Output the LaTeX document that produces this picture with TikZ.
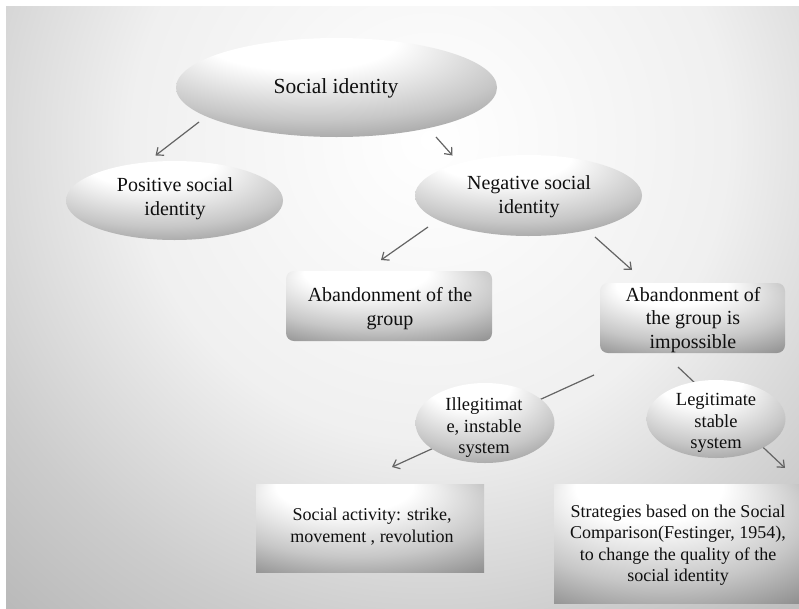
\documentclass[tikz,border=0pt]{standalone}
\usepackage{fontspec}
\setmainfont{Liberation Serif}
\newfontfamily\timesface{Liberation Serif}
\usetikzlibrary{arrows.meta,shapes.geometric}

% soft grey backdrop, bright near the upper middle
\pgfdeclareradialshading{bgshade}{\pgfpoint{0bp}{0bp}}{%
  color(0bp)=(white); color(10.7bp)=(black!6); color(17.9bp)=(black!20);
  color(24.3bp)=(black!30); color(27.9bp)=(black!38); color(30.7bp)=(black!43);
  color(33.6bp)=(black!47); color(42.9bp)=(black!53); color(50bp)=(black!55)}

% glossy fill of the shapes: highlight near the top, darker rim
\pgfdeclareradialshading{nodeshade}{\pgfpoint{-8bp}{34bp}}{%
  color(0bp)=(white); color(15bp)=(white); color(30bp)=(black!22);
  color(42bp)=(black!46); color(50bp)=(black!64)}

\definecolor{linkgray}{RGB}{100,100,100}
\definecolor{inkc}{RGB}{15,15,15}

\tikzset{
  oval/.style={ellipse, shade, shading=nodeshade, inner sep=0pt},
  panel/.style={rectangle, rounded corners=8pt, shade, shading=nodeshade, inner sep=0pt},
  flatpanel/.style={rectangle, shade, shading=nodeshade, inner sep=0pt},
  txtbig/.style={text=inkc, align=center, inner sep=0pt, font=\timesface\fontsize{20}{24}\selectfont},
  txtmid/.style={text=inkc, align=center, inner sep=0pt, font=\timesface\fontsize{18.5}{21.5}\selectfont},
  txtsmall/.style={text=inkc, align=center, inner sep=0pt, font=\timesface\fontsize{18}{22}\selectfont},
  link/.style={draw=linkgray, line width=1.2pt, -{Straight Barb[length=6pt,width=10pt]}},
}

\begin{document}
\begin{tikzpicture}[x=1pt,y=-1pt]
\useasboundingbox (0,0) rectangle (799,608);
\fill[white] (0,0) rectangle (799,608);
\begin{scope}
  \clip (6,6) rectangle (799,608);
  \shade[shading=bgshade] (430,140) circle[radius=700];
\end{scope}

% free ends of the connectors
\coordinate (p1) at (199,122);   \coordinate (q1) at (155.5,155.5);
\coordinate (p2) at (436,137);   \coordinate (q2) at (452.5,155.5);
\coordinate (p3) at (428,227);   \coordinate (q3) at (381,260);
\coordinate (p4) at (595,237);   \coordinate (q4) at (632,270);
\coordinate (p5) at (594,375);   \coordinate (q5) at (392,467);
\coordinate (p6) at (678,367);   \coordinate (q6) at (785,468);

% these two run behind the small ovals
\draw[link] (p5) -- (q5);
\draw[link] (p6) -- (q6);

% shapes
\node[oval, minimum width=321pt, minimum height=99pt] (si) at (336.5,87.5) {};
\node[oval, minimum width=217pt, minimum height=79pt] (pos) at (174.5,200.5) {};
\node[oval, minimum width=227pt, minimum height=81pt] (neg) at (528.5,195.5) {};
\node[panel, minimum width=206pt, minimum height=70pt] (aband) at (389,306) {};
\node[panel, minimum width=185pt, minimum height=70pt] (imposs) at (692.5,318) {};
\node[oval, minimum width=139pt, minimum height=80pt] (illeg) at (485,423) {};
\node[oval, minimum width=139pt, minimum height=78pt] (legit) at (716,419) {};
\node[flatpanel, minimum width=228pt, minimum height=88pt] (act) at (370,528) {};
\node[flatpanel, minimum width=245pt, minimum height=119pt] (strat) at (676.5,543.5) {};

% texts
\node[txtbig, font=\timesface\fontsize{21.5}{26}\selectfont] (si-t) at (336,88) {Social identity};
\node[txtbig] (pos-t) at (175,199) {Positive social\\identity};
\node[txtbig] (neg-t) at (529,197) {Negative social\\identity};
\node[txtbig] (aband-t) at (390,309) {Abandonment of the\\group};
\node[txtbig, font=\timesface\fontsize{20}{23.5}\selectfont] (imposs-t) at (693,320) {Abandonment of\\the group is\\impossible};
\node[txtmid] (illeg-t) at (484,428) {Illegitimat\\e, instable\\system};
\node[txtmid] (legit-t) at (716,423) {Legitimate\\stable\\system};
\node[txtsmall] (act-t) at (372,527) {Social activity: strike,\\movement , revolution};
\node[txtsmall, font=\timesface\fontsize{18}{21.5}\selectfont] (strat-t) at (678,545) {Strategies based on the Social\\Comparison(Festinger, 1954),\\to change the quality of the\\social identity};

% connectors
\draw[link] (p1) -- (q1);
\draw[link] (p2) -- (q2);
\draw[link] (p3) -- (q3);
\draw[link] (p4) -- (q4);
\end{tikzpicture}
\end{document}
